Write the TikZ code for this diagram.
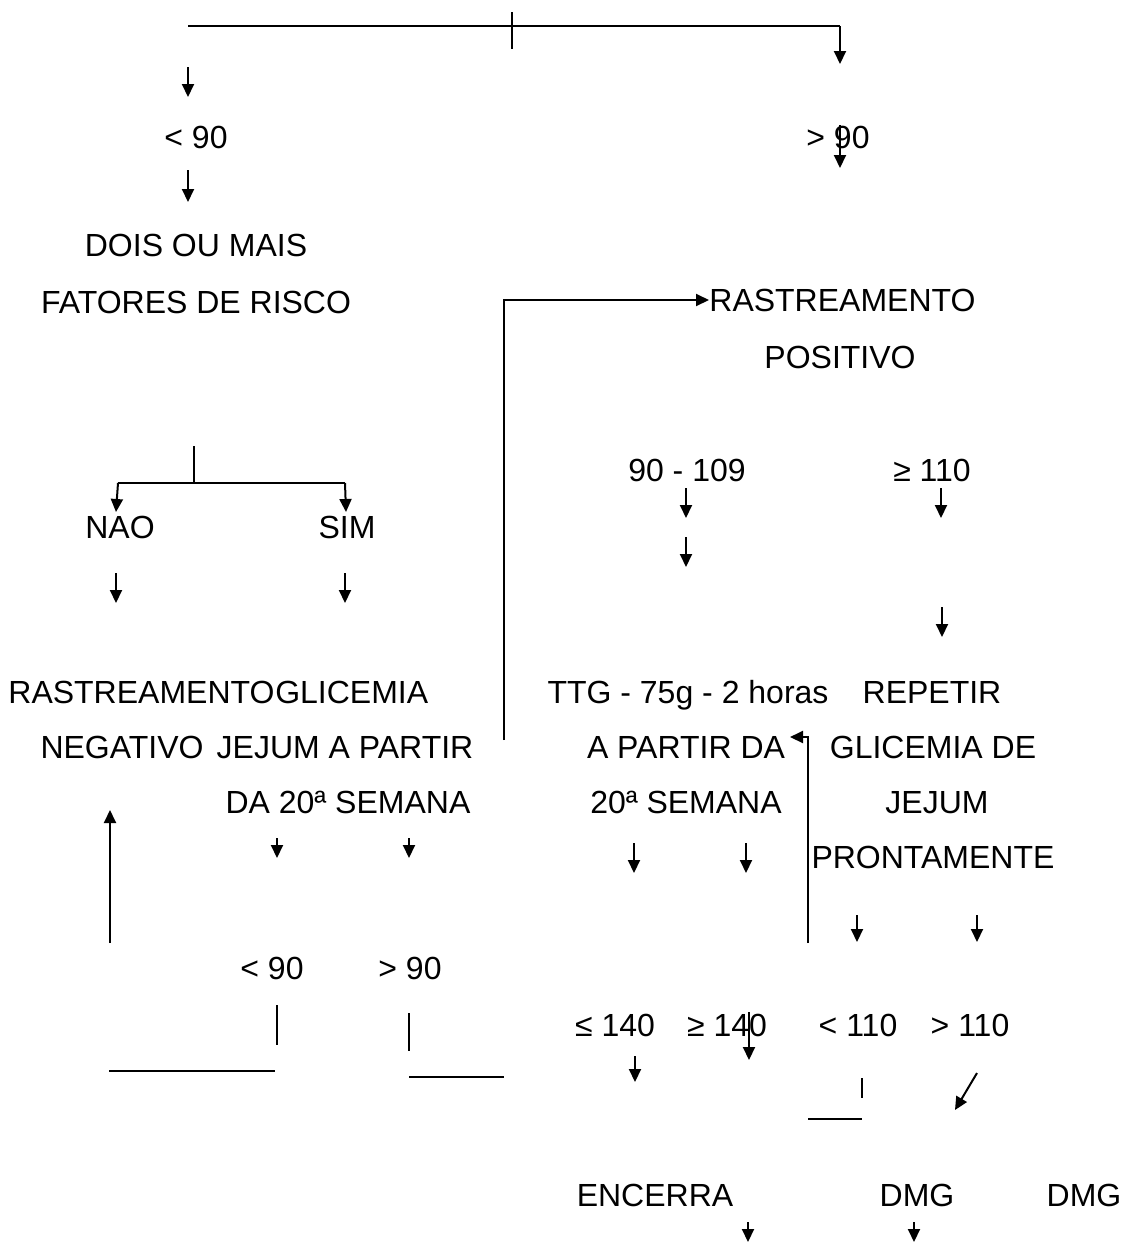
\documentclass[tikz,border=0pt]{standalone}
\usepackage{fontspec}
\setmainfont{Liberation Sans}
\usetikzlibrary{arrows.meta,positioning}
\tikzset{
  lbl/.style={inner sep=0pt, text height=11.5pt, text depth=0pt,
    font=\fontsize{16}{19}\selectfont},
  ln/.style={line width=1pt},
  arr/.style={ln, -{Triangle[length=6.5pt,width=6pt]}},
}
\begin{document}
\begin{tikzpicture}[x=0.5pt,y=-0.5pt]
\useasboundingbox (0,0) rectangle (1122,1243);
% top split
\coordinate (topl) at (188,26);
\coordinate (topr) at (840,26);
\coordinate (topt) at (512,12);
\coordinate (topb) at (512,49);
\coordinate (toprd) at (840,64);
\draw[ln] (topl) -- (topr);
\draw[ln] (topt) -- (topb);
\draw[arr] (topr) -- (toprd);

% texts, left column
\node[lbl] (lt90) at (196,137) {< 90};
\node[lbl] (gt90) at (838,137) {> 90};
\node[lbl] (dois) at (196,245) {DOIS OU MAIS};
\node[lbl] (fator) at (196,302) {FATORES DE RISCO};
\node[lbl] (nao) at (120,527) {NAO};
\node[lbl] (sim) at (347,527) {SIM};
\node[lbl, anchor=west] (rastneg) at (8,692) {RASTREAMENTO};
\node[lbl, right=0pt of rastneg] (glic) {GLICEMIA};
\node[lbl] (negat) at (122,747) {NEGATIVO};
\node[lbl] (jejum) at (345,747) {JEJUM A PARTIR};
\node[lbl] (da20) at (348,802) {DA 20ª SEMANA};
\node[lbl] (lt90b) at (272,968) {< 90};
\node[lbl] (gt90b) at (410,968) {> 90};

% texts, right column
\node[lbl, anchor=west] (rastpos) at (709,300) {RASTREAMENTO};
\node[lbl] (posit) at (840,357) {POSITIVO};
\node[lbl] (f90) at (687,470) {90 - 109};
\node[lbl] (f110) at (932,470) {≥ 110};
\node[lbl] (ttg) at (688,692) {TTG - 75g - 2 horas};
\node[lbl] (repet) at (932,692) {REPETIR};
\node[lbl] (apart) at (686,747) {A PARTIR DA};
\node[lbl] (glicde) at (933,747) {GLICEMIA DE};
\node[lbl] (sem20) at (686,802) {20ª SEMANA};
\node[lbl] (jj) at (937,802) {JEJUM};
\node[lbl] (pront) at (933,857) {PRONTAMENTE};
\node[lbl] (le140) at (615,1025) {≤ 140};
\node[lbl] (ge140) at (727,1025) {≥ 140};
\node[lbl] (lt110) at (858,1025) {< 110};
\node[lbl] (gt110) at (970,1025) {> 110};
\node[lbl] (encerra) at (655,1195) {ENCERRA};
\node[lbl] (dmga) at (917,1195) {DMG};
\node[lbl] (dmgb) at (1084,1195) {DMG};

% NAO / SIM split
\coordinate (ns) at (194,446);
\coordinate (nsm) at (194,483);
\coordinate (nsl) at (118,483);
\coordinate (nsr) at (345,483);
\coordinate (nsld) at (116,512);
\coordinate (nsrd) at (346,512);
\draw[ln] (ns) -- (nsm);
\draw[ln] (nsl) -- (nsr);
\draw[arr] (nsl) -- (nsld);
\draw[arr] (nsr) -- (nsrd);

% loose arrows (x / from y / to y)
\foreach \x/\ya/\yb [count=\i] in {188/67/97, 188/170/202, 840/125/168,
    116/573/603, 345/573/603, 686/488/518, 686/537/567, 941/488/518,
    942/607/637, 634/843/873, 746/843/873, 277/838/858, 409/838/858,
    857/915/942, 977/915/942, 749/1012/1060, 635/1056/1082,
    748/1222/1242, 914/1222/1242, 110/943/810}{
  \coordinate (a\i) at (\x,\ya);
  \coordinate (b\i) at (\x,\yb);
  \draw[arr] (a\i) -- (b\i);
}
\coordinate (dga) at (977,1073);
\coordinate (dgb) at (955,1110);
\draw[arr] (dga) -- (dgb);

% loop to RASTREAMENTO POSITIVO
\coordinate (lpb) at (504,740);
\draw[arr] (lpb) |- (rastpos.west);

% loop back to TTG
\coordinate (tgb) at (808,943);
\coordinate (tgc) at (808,737);
\coordinate (tgt) at (790,737);
\draw[arr] (tgb) -- (tgc) -- (tgt);

% loose bars
\coordinate (la) at (277,1005);
\coordinate (lb) at (277,1045);
\coordinate (lc) at (409,1013);
\coordinate (ld) at (409,1051);
\coordinate (le) at (109,1071);
\coordinate (lf) at (275,1071);
\coordinate (lg) at (409,1077);
\coordinate (lh) at (504,1077);
\coordinate (li) at (862,1078);
\coordinate (lj) at (862,1098);
\coordinate (lk) at (808,1119);
\coordinate (ll) at (862,1119);
\draw[ln] (la) -- (lb);
\draw[ln] (lc) -- (ld);
\draw[ln] (le) -- (lf);
\draw[ln] (lg) -- (lh);
\draw[ln] (li) -- (lj);
\draw[ln] (lk) -- (ll);
\end{tikzpicture}
\end{document}
